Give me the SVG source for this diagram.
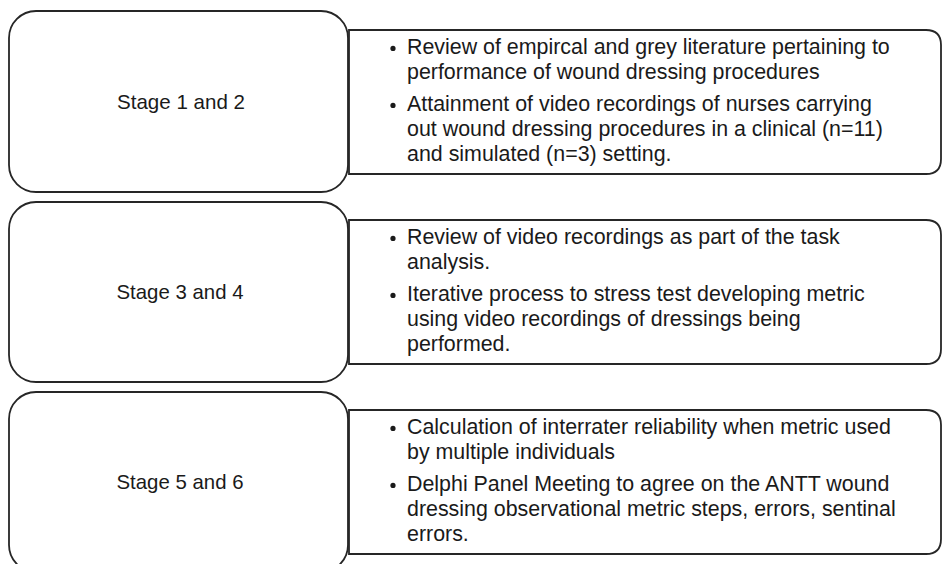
<svg xmlns="http://www.w3.org/2000/svg" width="942" height="564" viewBox="0 0 942 564">
<style>
.stage{fill:#fff;stroke:#262626;stroke-width:1.8}
.desc{fill:#fff;stroke:#262626;stroke-width:1.8}
.lbl{font-family:"Liberation Sans",Arial,sans-serif;font-size:21px;fill:#1a1a1a;text-anchor:middle}
.txt{font-family:"Liberation Sans",Arial,sans-serif;font-size:21.4px;fill:#1a1a1a}
.dot{fill:#1a1a1a}
</style>
<rect width="942" height="564" fill="#fff"/>
<g id="stage12">
<rect class="stage" x="9" y="11" width="339" height="181" rx="27" ry="27"/>
<text class="lbl" x="181" y="109" textLength="128" lengthAdjust="spacingAndGlyphs">Stage 1 and 2</text>
</g>
<g id="desc12">
<path class="desc" d="M349 30 H926 Q941 30 941 45 V159 Q941 174 926 174 H349 Z"/>
<circle class="dot" cx="393" cy="48.4" r="2.6"/>
<circle class="dot" cx="393" cy="105.4" r="2.6"/>
<text class="txt"><tspan x="407" y="54">Review of empircal and grey literature pertaining to</tspan><tspan x="407" y="79">performance of wound dressing procedures</tspan><tspan x="407" y="111">Attainment of video recordings of nurses carrying</tspan><tspan x="407" y="136">out wound dressing procedures in a clinical (n=11)</tspan><tspan x="407" y="161">and simulated (n=3) setting.</tspan></text>
</g>
<g id="stage34">
<rect class="stage" x="9" y="202" width="339" height="180" rx="27" ry="27"/>
<text class="lbl" x="180" y="299" textLength="127" lengthAdjust="spacingAndGlyphs">Stage 3 and 4</text>
</g>
<g id="desc34">
<path class="desc" d="M349 220 H926 Q941 220 941 235 V349 Q941 364 926 364 H349 Z"/>
<circle class="dot" cx="393" cy="238.4" r="2.6"/>
<circle class="dot" cx="393" cy="295.4" r="2.6"/>
<text class="txt"><tspan x="407" y="244">Review of video recordings as part of the task</tspan><tspan x="407" y="269">analysis.</tspan><tspan x="407" y="301">Iterative process to stress test developing metric</tspan><tspan x="407" y="326">using video recordings of dressings being</tspan><tspan x="407" y="351">performed.</tspan></text>
</g>
<g id="stage56">
<rect class="stage" x="9" y="392" width="339" height="180" rx="27" ry="27"/>
<text class="lbl" x="180" y="489" textLength="127" lengthAdjust="spacingAndGlyphs">Stage 5 and 6</text>
</g>
<g id="desc56">
<path class="desc" d="M349 410 H926 Q941 410 941 425 V539 Q941 554 926 554 H349 Z"/>
<circle class="dot" cx="393" cy="428.4" r="2.6"/>
<circle class="dot" cx="393" cy="485.4" r="2.6"/>
<text class="txt"><tspan x="407" y="434">Calculation of interrater reliability when metric used</tspan><tspan x="407" y="459">by multiple individuals</tspan><tspan x="407" y="491">Delphi Panel Meeting to agree on the ANTT wound</tspan><tspan x="407" y="516">dressing observational metric steps, errors, sentinal</tspan><tspan x="407" y="541">errors.</tspan></text>
</g>
<g id="connectors"></g>
</svg>
